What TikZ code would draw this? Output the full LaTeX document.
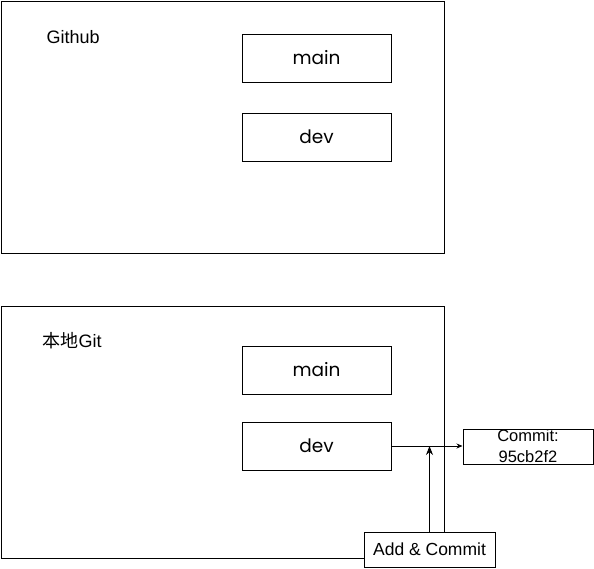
\documentclass[tikz,border=0pt]{standalone}
\usepackage{fontspec}
\setmainfont{Liberation Sans}
\newfontfamily\geofont{Poppins}
\newfontfamily\cjk{Noto Sans CJK SC}
\usetikzlibrary{arrows.meta}
\tikzset{
    repobox/.style={draw,line width=1pt,inner sep=0pt},
    branchbox/.style={draw,line width=1pt,minimum width=149pt,minimum height=48pt,inner sep=0pt,font=\geofont\fontsize{18.5}{20}\selectfont},
    actbox/.style={draw,fill=white,line width=1pt,minimum width=131pt,minimum height=35pt,inner sep=0pt,font=\fontsize{17.5}{20}\selectfont},
    repolabel/.style={anchor=west,inner sep=0pt,font=\fontsize{18}{20}\selectfont},
}

\begin{document}
\begin{tikzpicture}[x=1pt,y=-1pt,line width=1pt,>={Stealth[length=6pt,width=5pt]}]
            \useasboundingbox (0,0) rectangle (594,568);
            % remote repository
            \node[repobox,minimum width=443pt,minimum height=252pt] (github) at (222.5,127) {};
            \node[repolabel] (githublabel) at (46,37) {Github};
            \node[branchbox] (remotemain) at (316.5,58) {main};
            \node[branchbox] (remotedev) at (316.5,137) {dev};
            % local repository
            \node[repobox,minimum width=443pt,minimum height=252pt] (local) at (222.5,432) {};
            \node[repolabel] (locallabel) at (42,341) {{\cjk 本地}Git};
            \node[branchbox] (localmain) at (316.5,370) {main};
            \node[branchbox] (localdev) at (316.5,446) {dev};
            % commit
            \node[actbox,minimum width=130pt,font=\fontsize{16.5}{21}\selectfont,align=center] (commit) at (528,446.5) {Commit:\\95cb2f2};
            \node[actbox] (addcommit) at (429.5,549.5) {Add \& Commit};
            \draw[->,line width=0.8pt] (localdev.east) -- (localdev.east -| commit.west);
            \draw[-{Stealth[length=9pt,width=7pt]}] (addcommit.north) -- (addcommit.north |- localdev.east);
        \end{tikzpicture}
\end{document}
